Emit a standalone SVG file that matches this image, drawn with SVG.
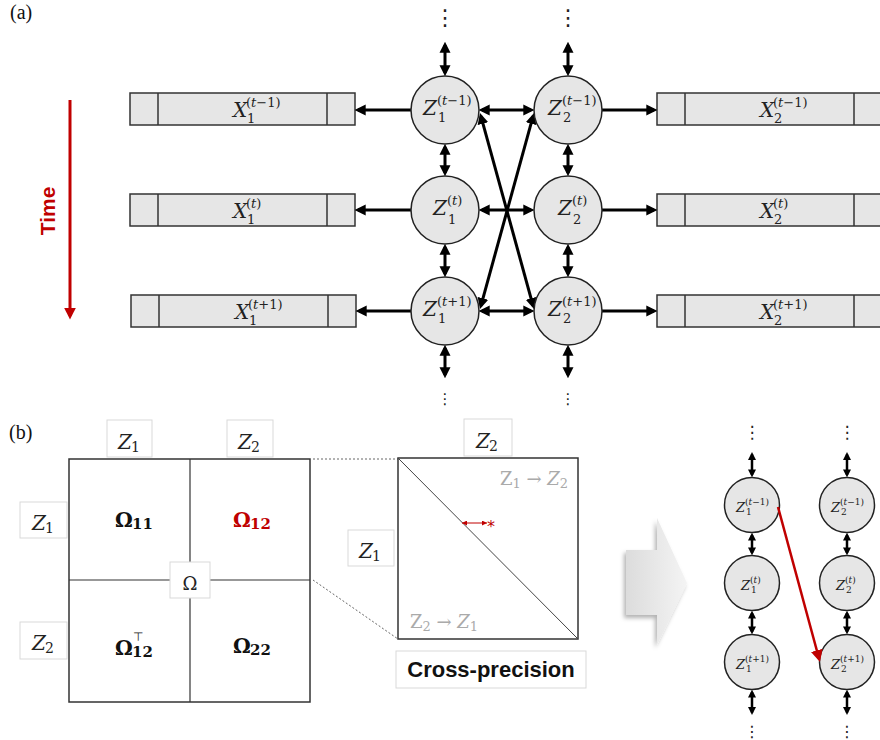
<svg xmlns="http://www.w3.org/2000/svg" width="880" height="740" viewBox="0 0 880 740">
<defs>
<style>
.m{font-family:"DejaVu Serif",serif;font-size:20px;fill:#222}
.i{font-style:italic}
.s{font-size:13px}
.ms{font-family:"DejaVu Serif",serif;font-size:13px;fill:#222}
.ss{font-size:9px}
.node{fill:#e6e6e6;stroke:#222;stroke-width:1.5}
.bar{fill:#e6e6e6;stroke:#333;stroke-width:1.5}
.div{stroke:#333;stroke-width:1.5}
.ar{stroke:#000;stroke-width:3;fill:none}
.ar2{stroke:#000;stroke-width:2.5;fill:none}
.dots{font-family:"DejaVu Sans",sans-serif;font-size:16px;fill:#222;text-anchor:middle}
.lbox{fill:#fff;stroke:#d9d9d9;stroke-width:1}
.om{font-family:"DejaVu Serif",serif;font-weight:bold;font-size:20px;fill:#111}
.gray{font-family:"DejaVu Serif",serif;font-size:18px;fill:#aaa}
</style>
<marker id="a" viewBox="0 0 10 10" refX="7" refY="5" markerWidth="11" markerHeight="12" markerUnits="userSpaceOnUse" orient="auto-start-reverse"><path d="M0,0L10,5L0,10z" fill="#000"/></marker>
<marker id="as" viewBox="0 0 10 10" refX="7" refY="5" markerWidth="8" markerHeight="8" markerUnits="userSpaceOnUse" orient="auto-start-reverse"><path d="M0,0L10,5L0,10z" fill="#000"/></marker>
<marker id="ar" viewBox="0 0 10 10" refX="7" refY="5" markerWidth="12" markerHeight="12" markerUnits="userSpaceOnUse" orient="auto-start-reverse"><path d="M0,0L10,5L0,10z" fill="#c00000"/></marker>
<marker id="art" viewBox="0 0 10 10" refX="10" refY="5" markerWidth="5" markerHeight="5" markerUnits="userSpaceOnUse" orient="auto-start-reverse"><path d="M0,0L10,5L0,10z" fill="#c00000"/></marker>
<linearGradient id="bg" x1="0" y1="0" x2="1" y2="0"><stop offset="0" stop-color="#dcdcdc"/><stop offset="1" stop-color="#f4f4f4"/></linearGradient>
<filter id="sh" x="-30%" y="-30%" width="160%" height="160%"><feDropShadow dx="-2" dy="3" stdDeviation="2" flood-color="#000" flood-opacity="0.3"/></filter>
</defs>
<rect width="880" height="740" fill="#fff"/>

<!-- panel labels -->
<text x="10" y="19" font-family="Liberation Serif,serif" font-size="20" fill="#111">(a)</text>
<text x="9" y="439" font-family="Liberation Serif,serif" font-size="20" fill="#111">(b)</text>

<!-- Time arrow -->
<g id="time">
<line x1="70" y1="100" x2="70" y2="316" stroke="#c00000" stroke-width="3" marker-end="url(#ar)"/>
<text transform="translate(55,211) rotate(-90)" text-anchor="middle" font-family="Liberation Sans,Arial,sans-serif" font-weight="bold" font-size="21" fill="#c00000">Time</text>
</g>

<!-- left bars -->
<g id="x1_tm1"><rect class="bar" x="130" y="93" width="225" height="32"/><line class="div" x1="158" y1="93" x2="158" y2="125"/><line class="div" x1="327" y1="93" x2="327" y2="125"/>
<text class="m"><tspan class="i" x="233" y="117">X</tspan><tspan class="s" x="246" y="107">(<tspan class="i">t</tspan>−1)</tspan><tspan class="s" x="247" y="123">1</tspan></text></g>
<g id="x1_t"><rect class="bar" x="130" y="194" width="225" height="32"/><line class="div" x1="158" y1="194" x2="158" y2="226"/><line class="div" x1="327" y1="194" x2="327" y2="226"/>
<text class="m"><tspan class="i" x="233" y="218">X</tspan><tspan class="s" x="246" y="208">(<tspan class="i">t</tspan>)</tspan><tspan class="s" x="247" y="224">1</tspan></text></g>
<g id="x1_tp1"><rect class="bar" x="131" y="295" width="225" height="32"/><line class="div" x1="159" y1="295" x2="159" y2="327"/><line class="div" x1="328" y1="295" x2="328" y2="327"/>
<text class="m"><tspan class="i" x="235" y="319">X</tspan><tspan class="s" x="248" y="309">(<tspan class="i">t</tspan>+1)</tspan><tspan class="s" x="249" y="325">1</tspan></text></g>

<!-- right bars -->
<g id="x2_tm1"><rect class="bar" x="657" y="93" width="226" height="32"/><line class="div" x1="685" y1="93" x2="685" y2="125"/><line class="div" x1="854" y1="93" x2="854" y2="125"/>
<text class="m"><tspan class="i" x="760" y="117">X</tspan><tspan class="s" x="773" y="107">(<tspan class="i">t</tspan>−1)</tspan><tspan class="s" x="774" y="123">2</tspan></text></g>
<g id="x2_t"><rect class="bar" x="657" y="194" width="226" height="32"/><line class="div" x1="685" y1="194" x2="685" y2="226"/><line class="div" x1="854" y1="194" x2="854" y2="226"/>
<text class="m"><tspan class="i" x="760" y="218">X</tspan><tspan class="s" x="773" y="208">(<tspan class="i">t</tspan>)</tspan><tspan class="s" x="774" y="224">2</tspan></text></g>
<g id="x2_tp1"><rect class="bar" x="657" y="295" width="226" height="32"/><line class="div" x1="685" y1="295" x2="685" y2="327"/><line class="div" x1="854" y1="295" x2="854" y2="327"/>
<text class="m"><tspan class="i" x="760" y="319">X</tspan><tspan class="s" x="773" y="309">(<tspan class="i">t</tspan>+1)</tspan><tspan class="s" x="774" y="325">2</tspan></text></g>

<!-- top connectors -->
<g id="connectors-a">
<line class="ar" x1="445" y1="45" x2="445" y2="73" marker-start="url(#a)" marker-end="url(#a)"/>
<line class="ar" x1="568" y1="45" x2="568" y2="73" marker-start="url(#a)" marker-end="url(#a)"/>
<line class="ar" x1="445" y1="147" x2="445" y2="173" marker-start="url(#a)" marker-end="url(#a)"/>
<line class="ar" x1="568" y1="147" x2="568" y2="173" marker-start="url(#a)" marker-end="url(#a)"/>
<line class="ar" x1="445" y1="247" x2="445" y2="274" marker-start="url(#a)" marker-end="url(#a)"/>
<line class="ar" x1="568" y1="247" x2="568" y2="274" marker-start="url(#a)" marker-end="url(#a)"/>
<line class="ar" x1="445" y1="348" x2="445" y2="375" marker-start="url(#a)" marker-end="url(#a)"/>
<line class="ar" x1="568" y1="348" x2="568" y2="375" marker-start="url(#a)" marker-end="url(#a)"/>
<line class="ar" x1="482" y1="110" x2="531" y2="110" marker-start="url(#a)" marker-end="url(#a)"/>
<line class="ar" x1="482" y1="210" x2="531" y2="210" marker-start="url(#a)" marker-end="url(#a)"/>
<line class="ar" x1="482" y1="311" x2="531" y2="311" marker-start="url(#a)" marker-end="url(#a)"/>
<line class="ar" x1="411" y1="110" x2="358" y2="110" marker-end="url(#a)"/>
<line class="ar" x1="411" y1="210" x2="358" y2="210" marker-end="url(#a)"/>
<line class="ar" x1="411" y1="311" x2="359" y2="311" marker-end="url(#a)"/>
<line class="ar" x1="602" y1="110" x2="654" y2="110" marker-end="url(#a)"/>
<line class="ar" x1="602" y1="210" x2="654" y2="210" marker-end="url(#a)"/>
<line class="ar" x1="602" y1="311" x2="654" y2="311" marker-end="url(#a)"/>
<line class="ar" x1="480.9" y1="116.2" x2="533.1" y2="305.8" marker-start="url(#a)" marker-end="url(#a)"/>
<line class="ar" x1="480.9" y1="305.8" x2="533.1" y2="116.2" marker-start="url(#a)" marker-end="url(#a)"/>
</g>

<!-- top dots -->
<text class="dots" x="445" y="25" style="font-size:22px">⋮</text>
<text class="dots" x="568" y="25" style="font-size:22px">⋮</text>
<text class="dots" x="445" y="404" style="font-size:15px">⋮</text>
<text class="dots" x="568" y="404" style="font-size:15px">⋮</text>

<!-- top nodes -->
<g id="z1_tm1"><circle class="node" cx="445" cy="110" r="34"/>
<text class="m"><tspan class="i" x="423" y="115">Z</tspan><tspan class="s" x="437" y="105">(<tspan class="i">t</tspan>−1)</tspan><tspan class="s" x="438" y="122">1</tspan></text></g>
<g id="z2_tm1"><circle class="node" cx="568" cy="110" r="34"/>
<text class="m"><tspan class="i" x="548" y="115">Z</tspan><tspan class="s" x="562" y="105">(<tspan class="i">t</tspan>−1)</tspan><tspan class="s" x="563" y="122">2</tspan></text></g>
<g id="z1_t"><circle class="node" cx="445" cy="210" r="34"/>
<text class="m"><tspan class="i" x="433" y="215">Z</tspan><tspan class="s" x="447" y="205">(<tspan class="i">t</tspan>)</tspan><tspan class="s" x="448" y="224">1</tspan></text></g>
<g id="z2_t"><circle class="node" cx="568" cy="210" r="34"/>
<text class="m"><tspan class="i" x="558" y="215">Z</tspan><tspan class="s" x="572" y="205">(<tspan class="i">t</tspan>)</tspan><tspan class="s" x="573" y="224">2</tspan></text></g>
<g id="z1_tp1"><circle class="node" cx="445" cy="311" r="34"/>
<text class="m"><tspan class="i" x="423" y="316">Z</tspan><tspan class="s" x="437" y="306">(<tspan class="i">t</tspan>+1)</tspan><tspan class="s" x="438" y="323">1</tspan></text></g>
<g id="z2_tp1"><circle class="node" cx="568" cy="311" r="34"/>
<text class="m"><tspan class="i" x="548" y="316">Z</tspan><tspan class="s" x="562" y="306">(<tspan class="i">t</tspan>+1)</tspan><tspan class="s" x="563" y="323">2</tspan></text></g>

<!-- panel b matrix -->
<g id="matrix">
<rect x="69" y="459" width="241" height="243" fill="#fff" stroke="#333" stroke-width="1.5"/>
<line x1="190" y1="459" x2="190" y2="702" stroke="#333" stroke-width="1.2"/>
<line x1="69" y1="580" x2="310" y2="580" stroke="#333" stroke-width="1.2"/>
<text class="om"><tspan x="115" y="527">Ω</tspan><tspan x="132" y="529" font-size="15">11</tspan></text>
<text class="om" style="fill:#c00000"><tspan x="233" y="527">Ω</tspan><tspan x="250" y="529" font-size="15">12</tspan></text>
<text class="om"><tspan x="115" y="655">Ω</tspan><tspan x="132" y="657" font-size="15">12</tspan><tspan x="133" y="641" font-size="12" font-weight="normal" font-family="DejaVu Sans,sans-serif">⊤</tspan></text>
<text class="om"><tspan x="233" y="653">Ω</tspan><tspan x="250" y="655" font-size="15">22</tspan></text>
</g>
<g id="omega_label"><rect class="lbox" x="170" y="562" width="40" height="36"/>
<text x="190" y="590" text-anchor="middle" font-family="DejaVu Serif,serif" font-size="18" fill="#222">Ω</text></g>
<g id="lbl_z1_top"><rect class="lbox" x="107" y="420" width="45" height="37"/>
<text class="m"><tspan class="i" x="118" y="449">Z</tspan><tspan x="131" y="452" font-size="14">1</tspan></text></g>
<g id="lbl_z2_top"><rect class="lbox" x="227" y="420" width="46" height="37"/>
<text class="m"><tspan class="i" x="238" y="449">Z</tspan><tspan x="251" y="452" font-size="14">2</tspan></text></g>
<g id="lbl_z1_left"><rect class="lbox" x="20" y="502" width="47" height="36"/>
<text class="m"><tspan class="i" x="32" y="530">Z</tspan><tspan x="45" y="533" font-size="14">1</tspan></text></g>
<g id="lbl_z2_left"><rect class="lbox" x="20" y="622" width="47" height="37"/>
<text class="m"><tspan class="i" x="32" y="650">Z</tspan><tspan x="45" y="653" font-size="14">2</tspan></text></g>

<!-- cross precision -->
<g id="zoom-lines">
<line x1="313" y1="459" x2="398" y2="459" stroke="#666" stroke-width="1" stroke-dasharray="2,2"/>
<line x1="313" y1="580" x2="398" y2="639" stroke="#666" stroke-width="1" stroke-dasharray="2,2"/>
</g>
<g id="cross">
<rect x="398" y="458" width="180" height="181" fill="#fff" stroke="#333" stroke-width="1.5"/>
<line x1="398" y1="458" x2="578" y2="639" stroke="#444" stroke-width="1"/>
<text class="gray" text-anchor="end" x="568" y="485"><tspan>Z</tspan><tspan dy="3" font-size="13">1</tspan><tspan dy="-3"> → </tspan><tspan class="i">Z</tspan><tspan dy="3" font-size="13">2</tspan></text>
<text class="gray" x="410" y="628"><tspan>Z</tspan><tspan dy="3" font-size="13">2</tspan><tspan dy="-3"> → </tspan><tspan class="i">Z</tspan><tspan dy="3" font-size="13">1</tspan></text>
<line x1="462" y1="523" x2="487" y2="523" stroke="#c00000" stroke-width="1" marker-start="url(#art)" marker-end="url(#art)"/>
<text x="487" y="532" font-family="DejaVu Sans,sans-serif" font-size="16" fill="#c00000">*</text>
</g>
<g id="lbl_z2_cross"><rect class="lbox" x="464" y="419" width="48" height="37"/>
<text class="m"><tspan class="i" x="476" y="448">Z</tspan><tspan x="489" y="451" font-size="14">2</tspan></text></g>
<g id="lbl_z1_cross"><rect class="lbox" x="348" y="530" width="46" height="36"/>
<text class="m"><tspan class="i" x="359" y="558">Z</tspan><tspan x="372" y="561" font-size="14">1</tspan></text></g>
<g id="lbl_cross"><rect class="lbox" x="396" y="651" width="190" height="37"/>
<text x="491" y="677" text-anchor="middle" font-family="Liberation Sans,Arial,sans-serif" font-weight="bold" font-size="22" fill="#111">Cross-precision</text></g>

<!-- block arrow -->
<g id="block-arrow">
<path d="M626,550 L657,550 L657,518 L687,583 L657,645 L657,615 L626,615 Z" fill="url(#bg)" filter="url(#sh)"/>
</g>

<!-- small graph connectors -->
<g id="connectors-b">
<line class="ar2" x1="752" y1="454.4" x2="752" y2="475" marker-start="url(#as)" marker-end="url(#as)"/>
<line class="ar2" x1="847" y1="454.4" x2="847" y2="475" marker-start="url(#as)" marker-end="url(#as)"/>
<line class="ar2" x1="752" y1="535" x2="752" y2="553" marker-start="url(#as)" marker-end="url(#as)"/>
<line class="ar2" x1="847" y1="535" x2="847" y2="553" marker-start="url(#as)" marker-end="url(#as)"/>
<line class="ar2" x1="752" y1="613" x2="752" y2="632" marker-start="url(#as)" marker-end="url(#as)"/>
<line class="ar2" x1="847" y1="613" x2="847" y2="632" marker-start="url(#as)" marker-end="url(#as)"/>
<line class="ar2" x1="752" y1="692" x2="752" y2="712.6" marker-start="url(#as)" marker-end="url(#as)"/>
<line class="ar2" x1="847" y1="692" x2="847" y2="712.6" marker-start="url(#as)" marker-end="url(#as)"/>
</g>
<text class="dots" x="752" y="438" style="font-size:17px">⋮</text>
<text class="dots" x="847" y="438" style="font-size:17px">⋮</text>
<text class="dots" x="752" y="737" style="font-size:16px">⋮</text>
<text class="dots" x="847" y="737" style="font-size:16px">⋮</text>

<g id="s_z1_tm1"><circle class="node" cx="752" cy="505" r="27.5"/>
<text class="ms"><tspan class="i" x="736" y="512">Z</tspan><tspan class="ss" x="745" y="505">(<tspan class="i">t</tspan>−1)</tspan><tspan class="ss" x="746" y="515">1</tspan></text></g>
<g id="s_z2_tm1"><circle class="node" cx="847" cy="505" r="27.5"/>
<text class="ms"><tspan class="i" x="831" y="512">Z</tspan><tspan class="ss" x="840" y="505">(<tspan class="i">t</tspan>−1)</tspan><tspan class="ss" x="841" y="515">2</tspan></text></g>
<g id="s_z1_t"><circle class="node" cx="752" cy="583" r="27.5"/>
<text class="ms"><tspan class="i" x="741" y="590">Z</tspan><tspan class="ss" x="750" y="583">(<tspan class="i">t</tspan>)</tspan><tspan class="ss" x="751" y="593">1</tspan></text></g>
<g id="s_z2_t"><circle class="node" cx="847" cy="583" r="27.5"/>
<text class="ms"><tspan class="i" x="836" y="590">Z</tspan><tspan class="ss" x="845" y="583">(<tspan class="i">t</tspan>)</tspan><tspan class="ss" x="846" y="593">2</tspan></text></g>
<g id="s_z1_tp1"><circle class="node" cx="752" cy="662" r="27.5"/>
<text class="ms"><tspan class="i" x="736" y="669">Z</tspan><tspan class="ss" x="745" y="662">(<tspan class="i">t</tspan>+1)</tspan><tspan class="ss" x="746" y="672">1</tspan></text></g>
<g id="s_z2_tp1"><circle class="node" cx="847" cy="662" r="27.5"/>
<text class="ms"><tspan class="i" x="831" y="669">Z</tspan><tspan class="ss" x="840" y="662">(<tspan class="i">t</tspan>+1)</tspan><tspan class="ss" x="841" y="672">2</tspan></text></g>

<g id="red-link">
<line x1="778" y1="507" x2="819" y2="658.5" stroke="#c00000" stroke-width="2.5" marker-end="url(#ar)"/>
</g>
</svg>
